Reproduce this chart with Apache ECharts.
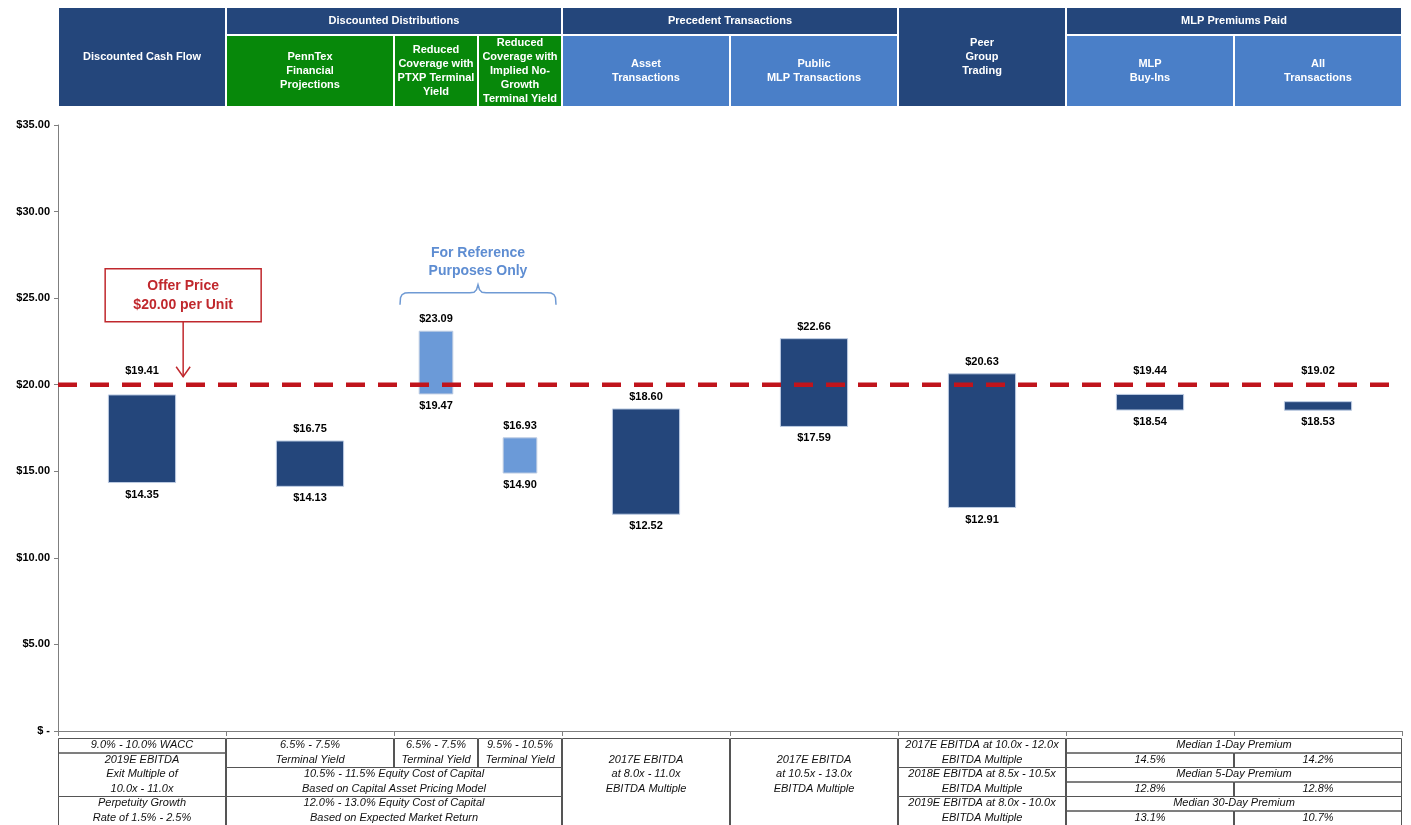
<!DOCTYPE html>
<html><head><meta charset="utf-8">
<script src="https://cdn.jsdelivr.net/npm/echarts@6/dist/echarts.min.js"></script>
<style>html,body{margin:0;padding:0;background:#fff}#c{width:1411px;height:825px}</style>
</head><body><div id="c"></div>
<script>
// ---------- DATA ----------
const categories = [
  'Discounted Cash Flow',
  'PennTex Financial Projections',
  'Reduced Coverage with PTXP Terminal Yield',
  'Reduced Coverage with Implied No-Growth Terminal Yield',
  'Asset Transactions',
  'Public MLP Transactions',
  'Peer Group Trading',
  'MLP Buy-Ins',
  'All Transactions'
];
const lowValues  = [14.35, 14.13, 19.47, 14.90, 12.52, 17.59, 12.91, 18.54, 18.53];
const highValues = [19.41, 16.75, 23.09, 16.93, 18.60, 22.66, 20.63, 19.44, 19.02];
const referenceOnly = [false, false, true, true, false, false, false, false, false];
const slotWidths = [1, 1, 0.5, 0.5, 1, 1, 1, 1, 1];
const offerPrice = 20.00;

// header: [startSlot, endSlot, level, lines]
const headerCells = [
  [0, 1, 'full', ['Discounted Cash Flow']],
  [1, 3, 'top', ['Discounted Distributions']],
  [1, 2, 'subG', ['PennTex', 'Financial', 'Projections']],
  [2, 2.5, 'subG', ['Reduced', 'Coverage with', 'PTXP Terminal', 'Yield']],
  [2.5, 3, 'subG', ['Reduced', 'Coverage with', 'Implied No-', 'Growth', 'Terminal Yield']],
  [3, 5, 'top', ['Precedent Transactions']],
  [3, 4, 'sub', ['Asset', 'Transactions']],
  [4, 5, 'sub', ['Public', 'MLP Transactions']],
  [5, 6, 'full', ['Peer', 'Group', 'Trading']],
  [6, 8, 'top', ['MLP Premiums Paid']],
  [6, 7, 'sub', ['MLP', 'Buy-Ins']],
  [7, 8, 'sub', ['All', 'Transactions']]
];

// footer: [startSlot, endSlot, rowStart, rowEnd, lines, textRowStart]
const footerCells = [
  [0, 1, 0, 1, ['9.0% - 10.0% WACC']],
  [0, 1, 1, 4, ['2019E EBITDA', 'Exit Multiple of', '10.0x - 11.0x']],
  [0, 1, 4, 6, ['Perpetuity Growth', 'Rate of 1.5% - 2.5%']],
  [1, 2, 0, 2, ['6.5% - 7.5%', 'Terminal Yield']],
  [2, 2.5, 0, 2, ['6.5% - 7.5%', 'Terminal Yield']],
  [2.5, 3, 0, 2, ['9.5% - 10.5%', 'Terminal Yield']],
  [1, 3, 2, 4, ['10.5% - 11.5% Equity Cost of Capital', 'Based on Capital Asset Pricing Model']],
  [1, 3, 4, 6, ['12.0% - 13.0% Equity Cost of Capital', 'Based on Expected Market Return']],
  [3, 4, 0, 6, ['2017E EBITDA', 'at 8.0x - 11.0x', 'EBITDA Multiple'], 1],
  [4, 5, 0, 6, ['2017E EBITDA', 'at 10.5x - 13.0x', 'EBITDA Multiple'], 1],
  [5, 6, 0, 2, ['2017E EBITDA at 10.0x - 12.0x', 'EBITDA Multiple']],
  [5, 6, 2, 4, ['2018E EBITDA at 8.5x - 10.5x', 'EBITDA Multiple']],
  [5, 6, 4, 6, ['2019E EBITDA at 8.0x - 10.0x', 'EBITDA Multiple']],
  [6, 8, 0, 1, ['Median 1-Day Premium']],
  [6, 7, 1, 2, ['14.5%']],
  [7, 8, 1, 2, ['14.2%']],
  [6, 8, 2, 3, ['Median 5-Day Premium']],
  [6, 7, 3, 4, ['12.8%']],
  [7, 8, 3, 4, ['12.8%']],
  [6, 8, 4, 5, ['Median 30-Day Premium']],
  [6, 7, 5, 6, ['13.1%']],
  [7, 8, 5, 6, ['10.7%']]
];
const offerLabel = ['Offer Price', '$20.00 per Unit'];
const referenceLabel = ['For Reference', 'Purposes Only'];

// ---------- STYLE ----------
const DARK = '#24467B', LIGHT = '#6B9AD8', GREEN = '#07880A', HDR_LIGHT = '#4A7FC8', RED = '#C0141C', REDBOX = '#C0282D', REFBLUE = '#5E8DD2';
const FONT = '"Liberation Sans", Arial, sans-serif';
const NARROW = '"Liberation Sans Narrow", "Arial Narrow", "Liberation Sans", Arial, sans-serif';

let cursor = 0;
const barData = categories.map((c, i) => {
  const xc = cursor + slotWidths[i] / 2;
  const item = [xc, lowValues[i], highValues[i], slotWidths[i] * 0.4, referenceOnly[i] ? 1 : 0];
  cursor += slotWidths[i];
  return item;
});
const totalSlots = cursor;

const chart = echarts.init(document.getElementById('c'));
const option = {
  animation: false,
  backgroundColor: '#fff',
  grid: { left: 58, right: 9, top: 125, bottom: 94 },
  xAxis: {
    type: 'value', min: 0, max: totalSlots, interval: 1,
    axisLine: { show: true, lineStyle: { color: '#7f7f7f', width: 1 } },
    axisTick: { show: true, length: 5, lineStyle: { color: '#7f7f7f' } },
    axisLabel: { show: false },
    splitLine: { show: false }
  },
  yAxis: {
    type: 'value', min: 0, max: 35, interval: 5,
    axisLine: { show: true, lineStyle: { color: '#7f7f7f', width: 1 } },
    axisTick: { show: true, length: 4, lineStyle: { color: '#7f7f7f' } },
    axisLabel: {
      color: '#000', fontSize: 11, fontWeight: 'bold', fontFamily: FONT, margin: 8,
      formatter: v => v === 0 ? '$ -' : '$' + v.toFixed(2)
    },
    splitLine: { show: false }
  },
  series: [
    {
      type: 'custom',
      z: 2,
      data: barData,
      renderItem: function (params, api) {
        const xc = api.value(0), lo = api.value(1), hi = api.value(2), w = api.value(3), ref = api.value(4);
        const tl = api.coord([xc - w / 2, hi]);
        const br = api.coord([xc + w / 2, lo]);
        const cx = (tl[0] + br[0]) / 2;
        const lineY = api.coord([0, offerPrice])[1];
        let topY = tl[1] - 12;
        if (Math.abs(topY - lineY) < 10) topY = lineY - 14;
        const ts = { fontSize: 11, fontWeight: 'bold', fontFamily: FONT, fill: '#000', align: 'center', verticalAlign: 'middle' };
        return {
          type: 'group',
          children: [
            { type: 'rect', shape: { x: tl[0], y: tl[1], width: br[0] - tl[0], height: br[1] - tl[1] },
              style: { fill: ref ? LIGHT : DARK, stroke: '#bccbe2', lineWidth: 1 } },
            { type: 'text', style: Object.assign({ text: '$' + hi.toFixed(2), x: cx, y: topY }, ts) },
            { type: 'text', style: Object.assign({ text: '$' + lo.toFixed(2), x: cx, y: br[1] + 12 }, ts) }
          ]
        };
      }
    },
    {
      type: 'line', z: 5, symbol: 'none', silent: true,
      data: [[0, offerPrice], [totalSlots, offerPrice]],
      lineStyle: { color: RED, width: 4.5, type: [19, 13] }
    }
  ]
};
chart.setOption(option);

// ---------- TABLES & ANNOTATIONS ----------
const X = v => chart.convertToPixel({ xAxisIndex: 0 }, v);
const Y = v => chart.convertToPixel({ yAxisIndex: 0 }, v);
const g = [];

const HT = 8, HM = 34, HS = 36, HB = 106;
headerCells.forEach(([a, b, lvl, lines]) => {
  let x0 = X(a) + 1, x1 = X(b) - 1, y0, y1, fill;
  if (lvl === 'full') { y0 = HT; y1 = HB; fill = DARK; }
  else if (lvl === 'top') { y0 = HT; y1 = HM; fill = DARK; }
  else { y0 = HS; y1 = HB; fill = lvl === 'subG' ? GREEN : HDR_LIGHT; }
  g.push({ type: 'rect', silent: true, shape: { x: x0, y: y0, width: x1 - x0, height: y1 - y0 }, style: { fill } });
  const lh = 13.8;
  const cy = (y0 + y1) / 2;
  lines.forEach((t, i) => {
    g.push({ type: 'text', silent: true, style: {
      text: t, x: (x0 + x1) / 2, y: cy + (i - (lines.length - 1) / 2) * lh,
      align: 'center', verticalAlign: 'middle', fill: '#fff', fontSize: 11, fontWeight: 'bold', fontFamily: FONT } });
  });
});

const FT = 738, RH = 14.5;
footerCells.forEach(([a, b, r0, r1, lines, tr]) => {
  const x0 = X(a), x1 = X(b), y0 = FT + r0 * RH, y1 = FT + r1 * RH;
  g.push({ type: 'rect', silent: true, shape: { x: x0 + 0.5, y: y0 + 0.5, width: x1 - x0 - 1, height: (r1 === 6 ? 100 : y1 - y0) },
    style: { fill: 'none', stroke: '#555', lineWidth: 1 } });
  const start = tr !== undefined ? tr : r0 + ((r1 - r0) - lines.length) / 2;
  lines.forEach((t, i) => {
    g.push({ type: 'text', silent: true, style: {
      text: t, x: (x0 + x1) / 2, y: FT + (start + i + 0.5) * RH,
      align: 'center', verticalAlign: 'middle', fill: '#111', fontSize: 11, fontStyle: 'italic', fontFamily: NARROW } });
  });
});

// offer price box and arrow
const ox = X(0.745), lineY = Y(offerPrice);
const bx0 = ox - 78, bx1 = ox + 78, by0 = lineY - 116, by1 = lineY - 63;
g.push({ type: 'rect', silent: true, shape: { x: bx0, y: by0, width: bx1 - bx0, height: by1 - by0 }, style: { fill: '#fff', stroke: REDBOX, lineWidth: 1.5 } });
offerLabel.forEach((t, i) => g.push({ type: 'text', silent: true, style: {
  text: t, x: ox, y: by0 + 17 + i * 19, align: 'center', verticalAlign: 'middle', fill: REDBOX, fontSize: 14, fontWeight: 'bold', fontFamily: FONT } }));
g.push({ type: 'line', silent: true, shape: { x1: ox, y1: by1, x2: ox, y2: lineY - 8 }, style: { stroke: REDBOX, lineWidth: 1.5 } });
g.push({ type: 'polyline', silent: true, shape: { points: [[ox - 7, lineY - 18], [ox, lineY - 8], [ox + 7, lineY - 18]] }, style: { stroke: REDBOX, lineWidth: 1.5, fill: 'none' } });

// reference bracket
const rx = X(2.5);
referenceLabel.forEach((t, i) => g.push({ type: 'text', silent: true, style: {
  text: t, x: rx, y: lineY - 132 + i * 18, align: 'center', verticalAlign: 'middle', fill: REFBLUE, fontSize: 14, fontWeight: 'bold', fontFamily: FONT } }));
const bt = lineY - 92;
const brace = [
  [rx - 78, bt + 12], [rx - 77.5, bt + 5], [rx - 76, bt + 2], [rx - 73, bt + 0.3], [rx - 69, bt],
  [rx - 8, bt], [rx - 4, bt - 0.5], [rx - 1.5, bt - 3], [rx, bt - 8],
  [rx + 1.5, bt - 3], [rx + 4, bt - 0.5], [rx + 8, bt],
  [rx + 69, bt], [rx + 73, bt + 0.3], [rx + 76, bt + 2], [rx + 77.5, bt + 5], [rx + 78, bt + 12]
];
g.push({ type: 'polyline', silent: true, shape: { points: brace }, style: { stroke: '#6F9AD4', lineWidth: 1.5, fill: 'none' } });

chart.setOption({ graphic: { elements: g } });
</script>
</body></html>
